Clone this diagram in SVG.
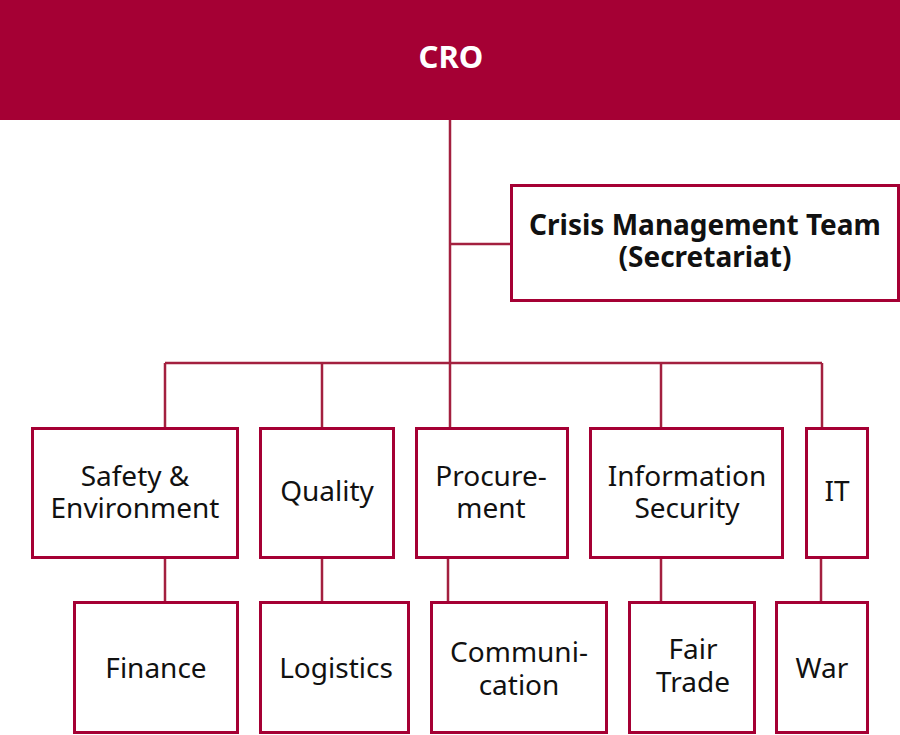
<svg xmlns="http://www.w3.org/2000/svg" width="900" height="735" viewBox="0 0 900 735">
<style>
.box{fill:#fff;stroke:#A50034;stroke-width:3}
.lbl{font-family:"Noto Sans","Open Sans","DejaVu Sans",sans-serif;font-size:28px;fill:#111;text-anchor:middle}
.bold{font-weight:bold}
.conn{stroke:#A3203F;stroke-width:2.5;fill:none}
</style>
<rect x="0" y="0" width="900" height="120" fill="#A50034"/>
<g id="connectors">
<path class="conn" d="M450 120V363M450 244H512M165 363H822M165 363V428M322 363V428M450 363V428M661 363V428M822 363V428"/>
<path class="conn" d="M165 559V601M322 559V601M448 559V601M661 559V601M821 559V601"/>
</g>
<g id="cro"><text class="lbl bold" x="451" y="68" style="fill:#fff;font-size:31px">CRO</text></g>
<g id="cmt"><rect class="box" x="511.5" y="185.5" width="387" height="115"/>
<text class="lbl bold" x="705" y="235">Crisis Management Team</text>
<text class="lbl bold" x="705" y="267">(Secretariat)</text></g>
<g id="safety"><rect class="box" x="32.5" y="428.5" width="205" height="129"/>
<text class="lbl" x="135" y="486">Safety &amp;</text><text class="lbl" x="135" y="518">Environment</text></g>
<g id="quality"><rect class="box" x="260.5" y="428.5" width="133" height="129"/>
<text class="lbl" x="327" y="501">Quality</text></g>
<g id="procurement"><rect class="box" x="416.5" y="428.5" width="151" height="129"/>
<text class="lbl" x="491" y="486">Procure-</text><text class="lbl" x="491" y="518">ment</text></g>
<g id="infosec"><rect class="box" x="590.5" y="428.5" width="192" height="129"/>
<text class="lbl" x="687" y="486">Information</text><text class="lbl" x="687" y="518">Security</text></g>
<g id="it"><rect class="box" x="806.5" y="428.5" width="61" height="129"/>
<text class="lbl" x="837" y="501">IT</text></g>
<g id="finance"><rect class="box" x="74.5" y="602.5" width="163" height="130"/>
<text class="lbl" x="156" y="678">Finance</text></g>
<g id="logistics"><rect class="box" x="260.5" y="602.5" width="148" height="130"/>
<text class="lbl" x="336" y="678">Logistics</text></g>
<g id="communication"><rect class="box" x="431.5" y="602.5" width="175" height="130"/>
<text class="lbl" x="519" y="662">Communi-</text><text class="lbl" x="519" y="695">cation</text></g>
<g id="fairtrade"><rect class="box" x="629.5" y="602.5" width="125" height="130"/>
<text class="lbl" x="693" y="659">Fair</text><text class="lbl" x="693" y="692">Trade</text></g>
<g id="war"><rect class="box" x="776.5" y="602.5" width="91" height="130"/>
<text class="lbl" x="822" y="678">War</text></g>
</svg>
